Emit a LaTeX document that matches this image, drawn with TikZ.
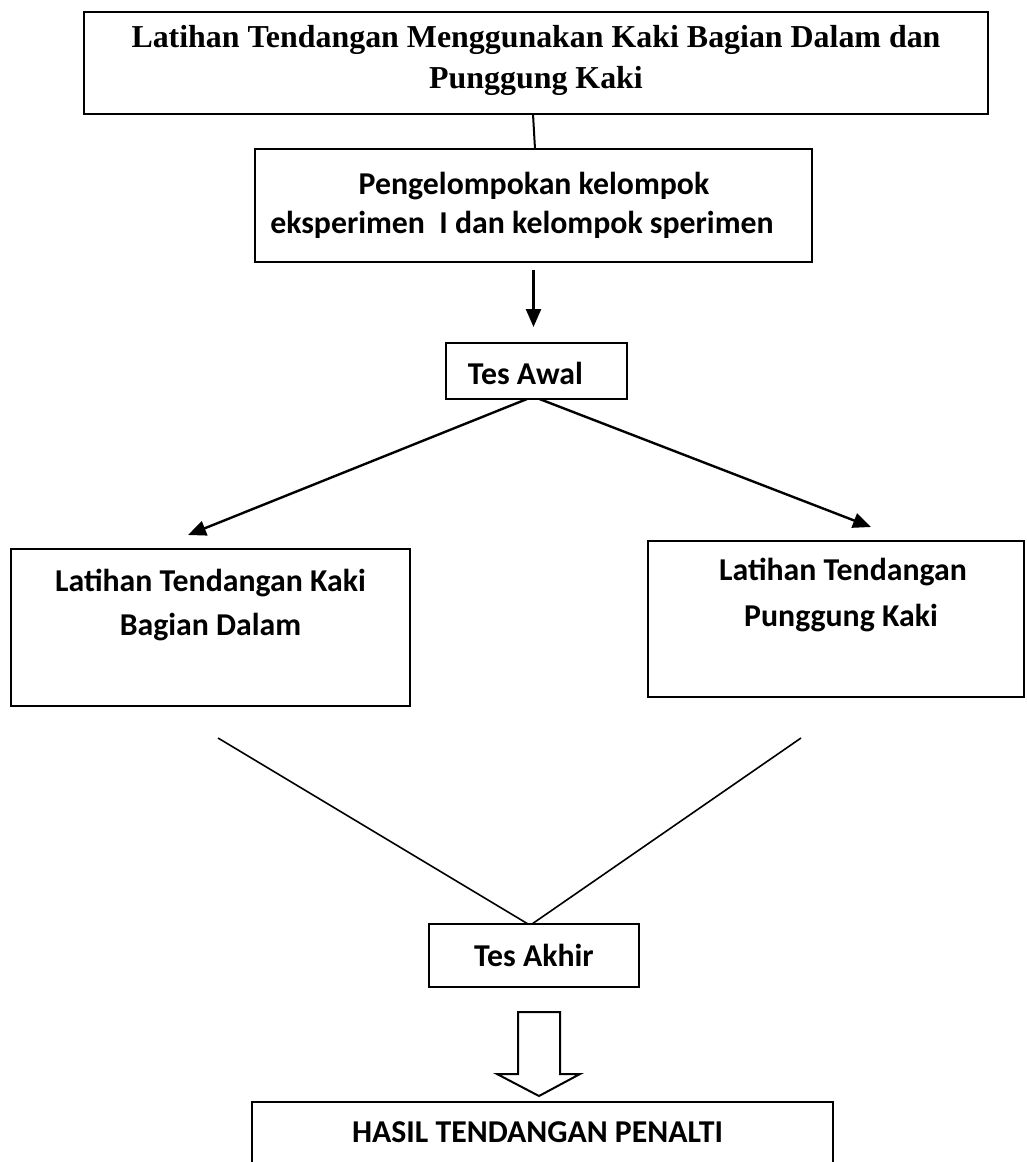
\documentclass[tikz,border=0pt]{standalone}
\usepackage{fontspec}
\setmainfont{Liberation Serif}
\newfontfamily\cbr{Carlito}
\usetikzlibrary{arrows.meta}
\begin{document}
\begin{tikzpicture}[x=1pt,y=-1pt,
  box/.style={draw,line width=2pt,inner sep=0pt,outer sep=0pt},
  ttl/.style={anchor=base,inner sep=0pt,font=\fontsize{31.9}{38}\selectfont\bfseries},
  lbl/.style={anchor=base,inner sep=0pt,font=\cbr\fontsize{31.8}{38}\selectfont\bfseries},
  arr/.style={line width=2.4pt,-{Triangle[length=18pt,width=15pt]}},
  thinline/.style={line width=1.6pt}]
\useasboundingbox (0,0) rectangle (1026,1162);
\clip (0,0) rectangle (1026,1162);
% boxes
\node[box,line width=2.5pt,minimum width=904pt,minimum height=102pt] (top) at (536,63) {};
\node[box,minimum width=557pt,minimum height=113pt] (b2) at (533.5,205.5) {};
\node[box,minimum width=181pt,minimum height=56pt] (awal) at (536.5,371) {};
\node[box,minimum width=399pt,minimum height=157pt] (left) at (210.5,627.5) {};
\node[box,minimum width=376pt,minimum height=156pt] (right) at (836,619) {};
\node[box,minimum width=210pt,minimum height=63pt] (akhir) at (534,955.5) {};
\node[box,anchor=north,minimum width=581pt,minimum height=100pt] (hasil) at (542.5,1102) {};
% texts
\node[ttl] (t1) at (536,47) {Latihan Tendangan Menggunakan Kaki Bagian Dalam dan};
\node[ttl] (t2) at (536,88) {Punggung Kaki};
\node[lbl] (p1) at (534,194) {Pengelompokan kelompok};
\node[lbl] (p2) at (522,233) {eksperimen~ I dan kelompok sperimen};
\node[lbl] (aw) at (525.5,384) {Tes Awal};
\node[lbl] (l1) at (210.5,591) {Latihan Tendangan Kaki};
\node[lbl] (l2) at (210.5,635) {Bagian Dalam};
\node[lbl] (r1) at (843,580) {Latihan Tendangan};
\node[lbl] (r2) at (841,626) {Punggung Kaki};
\node[lbl] (ak) at (534,966) {Tes Akhir};
\node[lbl] (hs) at (537.5,1142) {HASIL TENDANGAN PENALTI};
% connectors
\draw[line width=2pt] ([xshift=-3pt]top.south) -- ([xshift=1.5pt]b2.north);
\draw[arr,shorten <=8pt,shorten >=16pt] (b2.south) -- (b2.south |- awal.north);
\coordinate (tipL) at (188,535);
\coordinate (tipR) at (871,527);
\draw[arr] ([xshift=-9.5pt]awal.south) -- (tipL);
\draw[arr] ([xshift=3pt]awal.south) -- (tipR);
\coordinate (endL) at (218,738);
\coordinate (endR) at (801,738);
\draw[thinline] (endL) -- ([xshift=-6pt]akhir.north);
\draw[thinline] (endR) -- ([xshift=-2pt]akhir.north);
% block arrow
\draw[line width=2pt,line join=miter] (518,1012) -- (560,1012) -- (560,1074) -- (580,1074) -- (539,1096) -- (497,1074) -- (518,1074) -- cycle;
\end{tikzpicture}
\end{document}
